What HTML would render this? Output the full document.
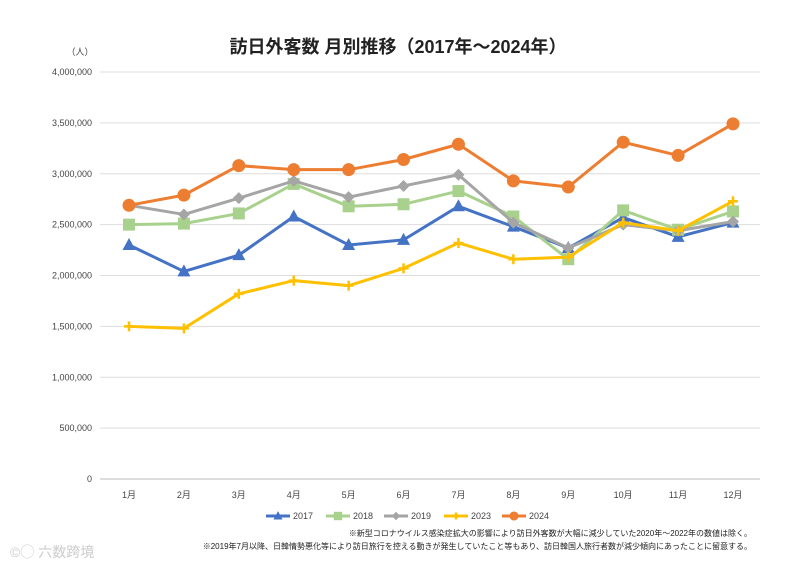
<!DOCTYPE html>
<html><head><meta charset="utf-8">
<style>
body{margin:0;background:#fff;}
svg{display:block;font-family:"Liberation Sans","Noto Sans CJK JP",sans-serif;}
</style></head>
<body>
<svg id="chart" width="791" height="567" viewBox="0 0 791 567">
<text x="398" y="53" text-anchor="middle" font-size="18" font-weight="bold" fill="#222">訪日外客数 月別推移（2017年～2024年）</text>
<text x="80" y="55" text-anchor="middle" font-size="9" fill="#444">（人）</text>
<g id="grid"></g><g id="series"></g>
<g id="legend"></g>
<text x="752" y="536" text-anchor="end" font-size="8" fill="#222">※新型コロナウイルス感染症拡大の影響により訪日外客数が大幅に減少していた2020年～2022年の数値は除く。</text>
<text x="752" y="549" text-anchor="end" font-size="8" fill="#222">※2019年7月以降、日韓情勢悪化等により訪日旅行を控える動きが発生していたこと等もあり、訪日韓国人旅行者数が減少傾向にあったことに留意する。</text>
<text x="10" y="557" font-size="14" fill="#ccc">©◯ 六数跨境</text>
</svg>
<script>
const months=["1月","2月","3月","4月","5月","6月","7月","8月","9月","10月","11月","12月"];
const yTicks=[0,500000,1000000,1500000,2000000,2500000,3000000,3500000,4000000];
const s2017=[2300000,2040000,2200000,2580000,2300000,2350000,2680000,2480000,2270000,2570000,2380000,2520000];
const s2018=[2500000,2510000,2610000,2900000,2680000,2700000,2830000,2580000,2160000,2640000,2450000,2630000];
const s2019=[2690000,2600000,2760000,2930000,2770000,2880000,2990000,2520000,2270000,2500000,2440000,2530000];
const s2023=[1500000,1480000,1820000,1950000,1900000,2070000,2320000,2160000,2180000,2520000,2440000,2730000];
const s2024=[2690000,2790000,3080000,3040000,3040000,3140000,3290000,2930000,2870000,3310000,3180000,3490000];
const seriesNames=["2017","2018","2019","2023","2024"];
const NS="http://www.w3.org/2000/svg";
const X=i=>129+i*(733-129)/11;
const Y=v=>479-v/4000000*407;
function mk(t,a,p){const e=document.createElementNS(NS,t);for(const k in a)e.setAttribute(k,a[k]);p.appendChild(e);return e;}
const grid=document.getElementById('grid');
yTicks.forEach(v=>{
 const l=mk('line',{x1:100,x2:760,y1:Y(v),y2:Y(v),stroke:v===0?'#bbb':'#ddd','stroke-width':1},grid);
 
 
 const t=mk('text',{x:92,y:Y(v)+3,'text-anchor':'end','font-size':9,fill:'#444'},grid);
 t.textContent=v.toLocaleString('en-US');
 
 
});
months.forEach((m,i)=>{
 const t=mk('text',{x:X(i),y:498,'text-anchor':'middle','font-size':9,fill:'#444'},grid);
 t.textContent=m;
 
 
});
const data=[s2017,s2018,s2019,s2023,s2024];
const colors=['#4472C4','#A9D18E','#A5A5A5','#FFC000','#ED7D31'];
const shapes=['tri','sq','dia','plus','circ'];
function marker(sh,x,y,c,p,sz){
 sz=sz||1;let e;
 if(sh==='tri')e=mk('polygon',{points:`${x},${y-7*sz} ${x-6.5*sz},${y+5*sz} ${x+6.5*sz},${y+5*sz}`,fill:c},p);
 else if(sh==='sq')e=mk('rect',{x:x-6*sz,y:y-6*sz,width:12*sz,height:12*sz,fill:c},p);
 else if(sh==='dia')e=mk('polygon',{points:`${x},${y-6*sz} ${x+6*sz},${y} ${x},${y+6*sz} ${x-6*sz},${y}`,fill:c},p);
 else if(sh==='plus')e=mk('path',{d:`M${x-5*sz},${y}H${x+5*sz}M${x},${y-5*sz}V${x?y+5*sz:0}`,stroke:c,'stroke-width':2.5},p);
 else e=mk('circle',{cx:x,cy:y,r:6.5*sz,fill:c},p);
 return e;
}
const sg=document.getElementById('series');
data.forEach((d,si)=>{
 const g=mk('g',{},sg);
 
 
 const pl=mk('polyline',{points:d.map((v,i)=>X(i)+','+Y(v)).join(' '),fill:'none',stroke:colors[si],'stroke-width':3,'stroke-linejoin':'round'},g);
 
 
 d.forEach((v,i)=>{
  const m=marker(shapes[si],X(i),Y(v),colors[si],g);
  
  
 });
});
const lg=document.getElementById('legend');
const lx=[266,326,384,444,502];
seriesNames.forEach((n,i)=>{
 const g=mk('g',{},lg);
 
 
 mk('line',{x1:lx[i],x2:lx[i]+24,y1:516,y2:516,stroke:colors[i],'stroke-width':3},g);
 marker(shapes[i],lx[i]+12,516,colors[i],g,0.7);
 const t=mk('text',{x:lx[i]+27,y:519,'font-size':9,fill:'#444'},g);
 t.textContent=n;
});
</script>
</body></html>
